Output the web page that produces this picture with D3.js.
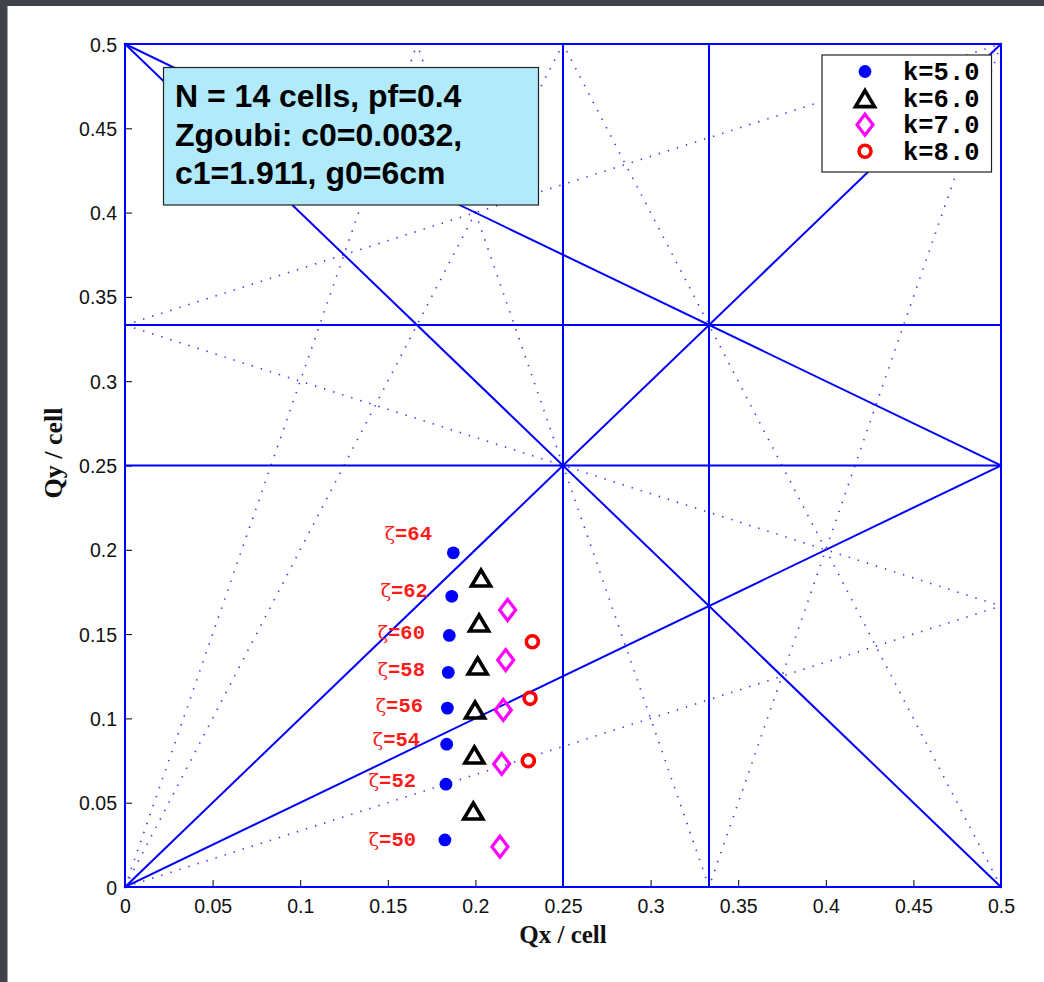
<!DOCTYPE html>
<html>
<head>
<meta charset="utf-8">
<script src="https://cdn.jsdelivr.net/npm/d3@7"></script>
<style>
  html, body { margin: 0; padding: 0; background: #3e434b; }
  svg { display: block; }
</style>
</head>
<body>
<svg id="chart" width="1044" height="982"></svg>
<script>
// Working points in the tune diagram (Qx, Qy per cell), one series per field index k
const k5Qx = [0.1874, 0.1865, 0.1851, 0.1845, 0.1840, 0.1836, 0.1832, 0.1826];
const k5Qy = [0.1982, 0.1724, 0.1492, 0.1273, 0.1061, 0.0847, 0.0610, 0.0279];
const k6Qx = [0.2032, 0.2021, 0.2013, 0.1998, 0.1994, 0.1988];
const k6Qy = [0.1827, 0.1560, 0.1305, 0.1044, 0.0777, 0.0445];
const k7Qx = [0.2184, 0.2173, 0.2159, 0.2150, 0.2140];
const k7Qy = [0.1643, 0.1346, 0.1050, 0.0730, 0.0239];
const k8Qx = [0.2325, 0.2312, 0.2302];
const k8Qy = [0.1455, 0.1119, 0.0749];

// Zeta annotations and their anchor points (text end, baseline) in tune units
const zetaValues = [64, 62, 60, 58, 56, 54, 52, 50];
const zetaAnchorQx = [0.1752, 0.1729, 0.1712, 0.1712, 0.1701, 0.1684, 0.1661, 0.1661];
const zetaAnchorQy = [0.2058, 0.1720, 0.1471, 0.1251, 0.1038, 0.0836, 0.0593, 0.0243];

// Resonance lines m*Qx + n*Qy = p
const solidResonances = [
  [1, 0, 0], [2, 0, 1], [0, 1, 0], [0, 2, 1],
  [4, 0, 1], [3, 0, 1], [0, 4, 1], [0, 3, 1],
  [1, -1, 0], [2, 2, 1], [1, 2, 1], [1, -2, 0]
];
const dottedResonances = [
  [2, -1, 0], [3, -1, 0], [1, -3, 0], [-1, 3, 1],
  [1, 3, 1], [3, 1, 1], [2, 1, 1], [3, -1, 1]
];

const xTicks = [0, 0.05, 0.1, 0.15, 0.2, 0.25, 0.3, 0.35, 0.4, 0.45, 0.5];
const yTicks = [0, 0.05, 0.1, 0.15, 0.2, 0.25, 0.3, 0.35, 0.4, 0.45, 0.5];
const xTickLabels = ["0", "0.05", "0.1", "0.15", "0.2", "0.25", "0.3", "0.35", "0.4", "0.45", "0.5"];
const yTickLabels = ["0", "0.05", "0.1", "0.15", "0.2", "0.25", "0.3", "0.35", "0.4", "0.45", "0.5"];

const legendLabels = ["k=5.0", "k=6.0", "k=7.0", "k=8.0"];
const infoLines = ["N = 14 cells, pf=0.4", "Zgoubi: c0=0.0032,", "c1=1.911, g0=6cm"];

// ---------------------------------------------------------------------------
const W = 1044, H = 982;
const margin = { left: 125, right: 43, top: 44, bottom: 95 };
const svg = d3.select("#chart");

// white page panel
svg.append("rect").attr("x", 7.5).attr("y", 6).attr("width", W - 7.5).attr("height", H - 6)
  .attr("fill", "#ffffff");

const x = d3.scaleLinear().domain([0, 0.5]).range([margin.left, W - margin.right]);
const y = d3.scaleLinear().domain([0, 0.5]).range([H - margin.bottom, margin.top]);

// clip a resonance line to the [0, 0.5] square
function segment([m, n, p]) {
  const lo = 0, hi = 0.5, eps = 1e-9, pts = [];
  if (n !== 0) for (const qx of [lo, hi]) {
    const qy = (p - m * qx) / n;
    if (qy >= lo - eps && qy <= hi + eps) pts.push([qx, qy]);
  }
  if (m !== 0) for (const qy of [lo, hi]) {
    const qx = (p - n * qy) / m;
    if (qx >= lo - eps && qx <= hi + eps) pts.push([qx, qy]);
  }
  let best = [pts[0], pts[1] || pts[0]], dmax = -1;
  for (let i = 0; i < pts.length; i++) for (let j = i + 1; j < pts.length; j++) {
    const d = Math.hypot(pts[i][0] - pts[j][0], pts[i][1] - pts[j][1]);
    if (d > dmax) { dmax = d; best = [pts[i], pts[j]]; }
  }
  return best;
}

// axes (inward black ticks, labels only)
const xAxis = d3.axisBottom(x).tickValues(xTicks)
  .tickFormat((d, i) => xTickLabels[i]).tickSizeInner(-7).tickSizeOuter(0).tickPadding(12);
const yAxis = d3.axisLeft(y).tickValues(yTicks)
  .tickFormat((d, i) => yTickLabels[i]).tickSizeInner(-7).tickSizeOuter(0).tickPadding(8);

const gx = svg.append("g").attr("transform", `translate(0,${H - margin.bottom})`).call(xAxis);
const gy = svg.append("g").attr("transform", `translate(${margin.left},0)`).call(yAxis);
for (const g of [gx, gy]) {
  g.select(".domain").remove();
  g.selectAll(".tick line").attr("stroke", "#000").attr("stroke-width", 1);
  g.selectAll(".tick text").attr("fill", "#111")
    .style("font-family", "'Liberation Sans', Arial, sans-serif").style("font-size", "19.5px");
}
gy.selectAll(".tick text").attr("dy", "0.36em");

// resonance lines
svg.append("g").selectAll("line").data(dottedResonances).join("line")
  .each(function (r) {
    const [a, b] = segment(r);
    d3.select(this).attr("x1", x(a[0])).attr("y1", y(a[1])).attr("x2", x(b[0])).attr("y2", y(b[1]));
  })
  .attr("stroke", "#2020ff").attr("stroke-width", 1.6).attr("stroke-dasharray", "1.4,8.1")
  .attr("opacity", 0.9);

svg.append("g").selectAll("line").data(solidResonances).join("line")
  .each(function (r) {
    const [a, b] = segment(r);
    d3.select(this).attr("x1", x(a[0])).attr("y1", y(a[1])).attr("x2", x(b[0])).attr("y2", y(b[1]));
  })
  .attr("stroke", "#0000ff").attr("stroke-width", 2).attr("stroke-linecap", "square");

// marker shapes
const triPath = "M0,-9 L9.5,7 L-9.5,7 Z";
const diaPath = "M0,-10.5 L8,0 L0,10.5 L-8,0 Z";
function drawMarker(g, kind) {
  if (kind === 0) g.append("circle").attr("r", 6.4).attr("fill", "#0000ff");
  else if (kind === 1) g.append("path").attr("d", triPath).attr("fill", "none")
    .attr("stroke", "#000").attr("stroke-width", 3.6).attr("stroke-linejoin", "miter");
  else if (kind === 2) g.append("path").attr("d", diaPath).attr("fill", "none")
    .attr("stroke", "#ff00ff").attr("stroke-width", 3.2);
  else g.append("circle").attr("r", 6).attr("fill", "none")
    .attr("stroke", "#ff0000").attr("stroke-width", 3.6);
}

const series = [[k5Qx, k5Qy], [k6Qx, k6Qy], [k7Qx, k7Qy], [k8Qx, k8Qy]];
series.forEach(([qx, qy], kind) => {
  const g = svg.append("g");
  qx.forEach((v, i) => {
    const m = g.append("g").attr("transform", `translate(${x(v)},${y(qy[i])})`);
    drawMarker(m, kind);
  });
});

// zeta labels
const zg = svg.append("g").attr("fill", "#ff1a1a")
  .style("font-family", "'Liberation Mono', 'Courier New', monospace")
  .style("font-weight", "bold").style("font-size", "20.5px");
zetaValues.forEach((z, i) => {
  const t = zg.append("text").attr("x", x(zetaAnchorQx[i])).attr("y", y(zetaAnchorQy[i]))
    .attr("text-anchor", "end");
  t.append("tspan").style("font-family", "'DejaVu Serif', 'Liberation Serif', serif")
    .style("font-weight", "normal").style("font-size", "19px").text("ζ");
  t.append("tspan").text("=" + z);
});

// axis titles
svg.append("text").attr("x", x(0.25)).attr("y", 943).attr("text-anchor", "middle")
  .style("font-family", "'Liberation Serif', 'Times New Roman', serif")
  .style("font-weight", "bold").style("font-size", "25px").attr("fill", "#111")
  .text("Qx / cell");
svg.append("text").attr("transform", `translate(62,453) rotate(-90)`)
  .attr("text-anchor", "middle")
  .style("font-family", "'Liberation Serif', 'Times New Roman', serif")
  .style("font-weight", "bold").style("font-size", "26px").attr("fill", "#111")
  .text("Qy / cell");

// parameter box
const info = svg.append("g");
info.append("rect").attr("x", 163.5).attr("y", 67.5).attr("width", 375).attr("height", 137.5)
  .attr("fill", "#b0eafb").attr("stroke", "#222").attr("stroke-width", 1.2);
info.selectAll("text").data(infoLines).join("text")
  .attr("x", 175).attr("y", (d, i) => 107 + i * 38.5)
  .style("font-family", "'Liberation Sans', Arial, sans-serif")
  .style("font-weight", "bold").style("font-size", "32px").attr("fill", "#000")
  .text(d => d);

// legend
const lg = svg.append("g");
lg.append("rect").attr("x", 822).attr("y", 55).attr("width", 169.5).attr("height", 117)
  .attr("fill", "#fff").attr("stroke", "#222").attr("stroke-width", 1.2);
legendLabels.forEach((lab, i) => {
  const cy = 71.5 + i * 26.6;
  const m = lg.append("g").attr("transform", `translate(865,${cy + (i === 1 ? 1.5 : 0)})`);
  drawMarker(m, i);
  lg.append("text").attr("x", 903).attr("y", cy + 8.5)
    .style("font-family", "'Liberation Mono', 'Courier New', monospace")
    .style("font-weight", "bold").style("font-size", "25.5px").attr("fill", "#000")
    .text(lab);
});
</script>
</body>
</html>
